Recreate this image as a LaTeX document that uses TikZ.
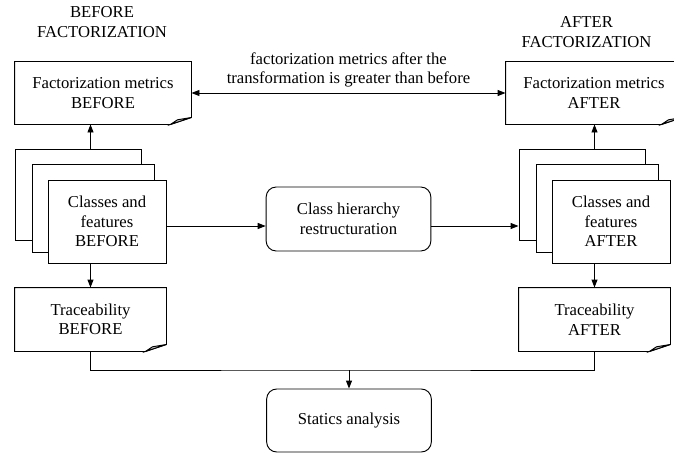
\documentclass[tikz,border=0pt]{standalone}
\usepackage{fontspec}
\setmainfont{Liberation Serif}
\usetikzlibrary{arrows.meta,positioning}

% hoja con esquina doblada
\newcommand{\docframe}[1]{%
  \draw (#1.north west) -- (#1.north east) -- ([yshift=5.25pt]#1.south east)
        -- ([xshift=-15.75pt]#1.south east) -- (#1.south west) -- cycle;
  \filldraw[fill=gray!45] ([xshift=-15.75pt]#1.south east) -- ([yshift=5.25pt]#1.south east)
        -- ([xshift=-10.5pt,yshift=3.5pt]#1.south east) -- cycle;}

\begin{document}
\begin{tikzpicture}[x=0.75pt,y=-0.75pt,line width=0.7pt,
  every node/.style={font=\fontsize{12.5}{14.6}\selectfont, align=center, inner sep=0pt},
  metric/.style={minimum width=132pt, minimum height=46.5pt},
  trace/.style={minimum width=113.25pt, minimum height=47.25pt},
  sheet/.style={draw, fill=white},
  rbox/.style={draw, rounded corners=7.5pt, minimum width=123.5pt, minimum height=48pt},
  conn/.style={-{Triangle[length=6pt,width=4.5pt]}}]
   \useasboundingbox (0,0) rectangle (674,453);

   %Titulos
   \node (head-before) at (102,22) {BEFORE\\FACTORIZATION};
   \node (head-after) at (586.5,32) {AFTER\\FACTORIZATION};

   %Metricas
   \node[metric] (met-before) at (103,93) {Factorization metrics\\BEFORE};
   \docframe{met-before}
   \node[metric] (met-after) at (594,93) {Factorization metrics\\AFTER};
   \docframe{met-after}

   %Clases antes (tres hojas)
   \node[sheet, minimum width=94.5pt, minimum height=68.25pt] (cls-before3) at (78,194.5) {};
   \node[sheet, minimum width=91.5pt, minimum height=66pt] (cls-before2) at (93,208) {};
   \node[sheet, minimum width=88.5pt, minimum height=62.25pt] (cls-before) at (107,221.5) {Classes and\\features\\BEFORE};

   %Clases despues
   \node[sheet, minimum width=94.5pt, minimum height=68.25pt] (cls-after3) at (582,194.5) {};
   \node[sheet, minimum width=91.5pt, minimum height=66pt] (cls-after2) at (597,208) {};
   \node[sheet, minimum width=88.5pt, minimum height=62.25pt] (cls-after) at (611,221.5) {Classes and\\features\\AFTER};

   %Trazabilidad
   \node[trace] (trace-before) at (90.5,319.5) {Traceability\\BEFORE};
   \docframe{trace-before}
   \node[trace] (trace-after) at (594.5,319.5) {Traceability\\AFTER};
   \docframe{trace-after}

   %Cajas redondeadas
   \node[rbox] (hier) at (348.5,219) {Class hierarchy\\restructuration};
   \node[rbox, minimum height=47.25pt] (stat) at (349,420.5) {Statics analysis};

   %Flechas
   \coordinate (mid) at (0,226);
   \coordinate (join) at (349,370);
   \draw[{Triangle[length=6pt,width=4.5pt]}-{Triangle[length=6pt,width=4.5pt]}] (met-before.east) -- (met-after.west)
      node[midway, above=4pt] (note) {factorization metrics after the\\transformation is greater than before};
   \draw[conn] (trace-before.north |- cls-before3.north) -- (trace-before.north |- met-before.south);
   \draw[conn] (trace-before.north |- cls-before.south) -- (trace-before.north);
   \draw[conn] (trace-after.north |- cls-after3.north) -- (trace-after.north |- met-after.south);
   \draw[conn] (trace-after.north |- cls-after.south) -- (trace-after.north);
   \draw[conn] (cls-before.east |- mid) -- (hier.west |- mid);
   \draw[conn] (hier.east |- mid) -- (cls-after3.west |- mid);
   \draw (trace-before.south) |- (join) -| (trace-after.south);
   \draw[conn] (join) -- (stat.north);
\end{tikzpicture}
\end{document}
